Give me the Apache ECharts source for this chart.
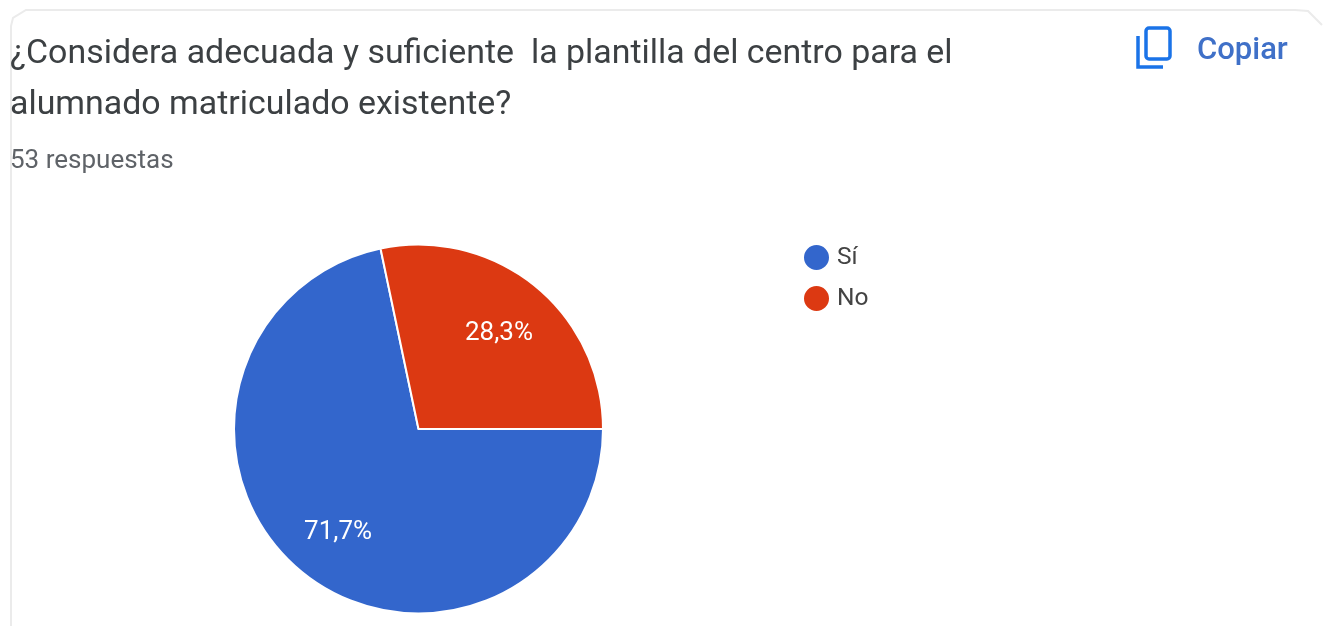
<!DOCTYPE html>
<html>
<head>
<meta charset="utf-8">
<style>html,body{margin:0;padding:0;background:#fff}#c{width:1325px;height:626px}</style>
<script src="https://cdn.jsdelivr.net/npm/echarts@6/dist/echarts.min.js"></script>
</head>
<body>
<div id="c"></div>
<script>
const titleLines = ["¿Considera adecuada y suficiente  la plantilla del centro para el", "alumnado matriculado existente?"];
const subtitle = "53 respuestas";
const copyLabel = "Copiar";
const categories = ["Sí", "No"];
const values = [71.7, 28.3];
const labels = ["71,7%", "28,3%"];
const colors = ["#3366cc", "#dc3912"];
const pieCenter = [418.5, 429];
const labelPush = 0.34;
const labelDrop = 4;

const chart = echarts.init(document.getElementById('c'), null, {renderer: 'canvas'});
chart.setOption({
  animation: false,
  backgroundColor: '#ffffff',
  title: [
    {text: titleLines.join("\n"), left: 5, top: 24, padding: 5,
     textStyle: {fontFamily: 'Roboto', fontSize: 33.9, fontWeight: 'normal', color: '#3c4043', lineHeight: 51}},
    {text: subtitle, left: 5, top: 144, padding: 5,
     textStyle: {fontFamily: 'Roboto', fontSize: 26, fontWeight: 'normal', color: '#5f6368', lineHeight: 24}}
  ],
  legend: {
    orient: 'vertical', left: 797, top: 238, icon: 'circle', itemWidth: 27, itemHeight: 27, itemGap: 12,
    data: categories, selectedMode: false,
    textStyle: {fontFamily: 'Roboto', fontSize: 24.5, color: '#444444', lineHeight: 27, padding: [0, 0, 0, 2]}
  },
  series: [{
    type: 'pie', center: pieCenter, radius: [0, 184.5], startAngle: 0, clockwise: true,
    itemStyle: {borderColor: '#ffffff', borderWidth: 2},
    label: {show: true, position: 'inside', color: '#ffffff', fontFamily: 'Roboto', fontSize: 26,
      formatter: p => labels[p.dataIndex]},
    labelLine: {show: false},
    labelLayout: p => ({
      dx: (p.labelRect.x + p.labelRect.width / 2 - pieCenter[0]) * labelPush,
      dy: (p.labelRect.y + p.labelRect.height / 2 - pieCenter[1]) * labelPush + labelDrop
    }),
    emphasis: {disabled: true},
    data: categories.map((name, i) => ({name, value: values[i], itemStyle: {color: colors[i]}}))
  }],
  graphic: [
    {type: 'polyline', z: -1, silent: true,
     shape: {points: [[11, 626], [11, 26], [13, 18], [26, 10], [1295, 10], [1308, 11], [1322, 25]]},
     style: {stroke: '#ebebeb', lineWidth: 2, fill: null}},
    {type: 'rect', shape: {x: 1146, y: 28, width: 24, height: 31, r: 3}, style: {fill: null, stroke: '#1a73e8', lineWidth: 3.5}},
    {type: 'polyline', shape: {points: [[1138, 36], [1138, 67], [1163, 67]]}, style: {stroke: '#1a73e8', lineWidth: 3.5, fill: null}},
    {type: 'text', left: 1197, top: 36,
     style: {text: copyLabel, fontFamily: 'Roboto', fontSize: 31, fontWeight: 500, fill: '#3f70c8'}}
  ]
});
</script>
</body>
</html>
